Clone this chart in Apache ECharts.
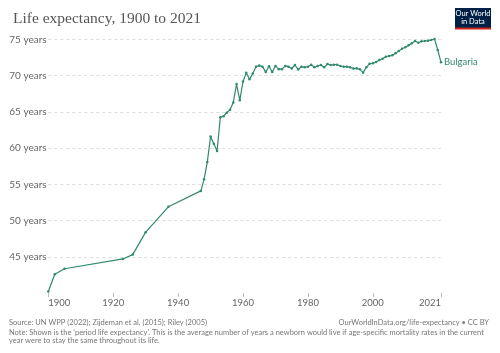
<!DOCTYPE html>
<html lang="en">
<head>
    <meta charset="UTF-8">
    <title>Life expectancy, 1900 to 2021</title>
    <script src="https://cdn.jsdelivr.net/npm/echarts@6/dist/echarts.min.js"></script>
    <style>
        html, body { margin: 0; padding: 0; background: #fff; }
    </style>
</head>
<body>
    <div id="main" style="width: 500px;height:353px;"></div>
    <script>
// data (Bulgaria)
var years = [1900, 1902, 1905, 1923, 1926, 1930, 1937, 1947, 1948, 1949,
    1950, 1951, 1952, 1953, 1954, 1955, 1956, 1957, 1958, 1959,
    1960, 1961, 1962, 1963, 1964, 1965, 1966, 1967, 1968, 1969,
    1970, 1971, 1972, 1973, 1974, 1975, 1976, 1977, 1978, 1979,
    1980, 1981, 1982, 1983, 1984, 1985, 1986, 1987, 1988, 1989,
    1990, 1991, 1992, 1993, 1994, 1995, 1996, 1997, 1998, 1999,
    2000, 2001, 2002, 2003, 2004, 2005, 2006, 2007, 2008, 2009,
    2010, 2011, 2012, 2013, 2014, 2015, 2016, 2017, 2018, 2019,
    2020, 2021];
var lifeExp = [40.2, 42.6, 43.35, 44.7, 45.3, 48.4, 51.9, 54.1, 55.7, 58.1,
    61.6, 60.6, 59.6, 64.25, 64.4, 64.9, 65.3, 66.3, 68.85, 66.6,
    69.2, 70.4, 69.5, 70.3, 71.25, 71.4, 71.25, 70.5, 71.3, 70.5,
    71.35, 70.9, 70.9, 71.35, 71.25, 71.0, 71.48, 70.85, 71.25, 71.16,
    71.25, 71.52, 71.16, 71.34, 71.48, 71.16, 71.62, 71.48, 71.52, 71.52,
    71.34, 71.25, 71.25, 71.16, 70.98, 71.02, 70.88, 70.42, 71.16, 71.66,
    71.71, 71.89, 72.17, 72.35, 72.63, 72.72, 72.81, 73.09, 73.41, 73.73,
    73.92, 74.19, 74.47, 74.79, 74.56, 74.75, 74.79, 74.84, 74.93, 75.07,
    73.55, 71.85];
var xTicks = [1900, 1920, 1940, 1960, 1980, 2000, 2021];
var entity = 'Bulgaria';

var lineColor = '#318a69';
var font = 'Lato';

var myChart = echarts.init(document.getElementById('main'));

var seriesData = years.map(function (y, i) { return [y, lifeExp[i]]; });

var option = {
    animation: false,
    title: {
        text: 'Life expectancy, 1900 to 2021',
        left: 8,
        top: 6,
        textStyle: {
            fontFamily: 'Liberation Serif',
            fontSize: 15.5,
            fontWeight: 'normal',
            color: '#555'
        }
    },
    grid: {
        left: 48.3,
        right: 59,
        top: 39.5,
        bottom: 60
    },
    xAxis: {
        type: 'value',
        min: 1900,
        max: 2021,
        axisLine: { show: false },
        splitLine: { show: false },
        axisTick: {
            show: true,
            length: 4,
            customValues: xTicks,
            lineStyle: { color: '#bbb' }
        },
        axisLabel: {
            customValues: xTicks,
            formatter: function (v) { return String(v); },
            alignMinLabel: 'left',
            alignMaxLabel: 'right',
            margin: 5,
            fontFamily: font,
            fontSize: 9.5,
            color: '#666'
        }
    },
    yAxis: {
        type: 'value',
        min: 40,
        max: 75,
        interval: 5,
        axisLine: { show: false },
        axisTick: { show: false },
        axisLabel: {
            showMinLabel: false,
            formatter: '{value} years',
            align: 'left',
            margin: 39,
            fontFamily: font,
            fontSize: 10,
            color: '#666'
        },
        splitLine: {
            showMinLine: false,
            lineStyle: { color: '#ddd', type: [3, 3], width: 1 }
        }
    },
    series: [
        {
            name: entity,
            type: 'line',
            clip: false,
            data: seriesData,
            symbol: 'circle',
            symbolSize: 2.5,
            showSymbol: true,
            itemStyle: { color: lineColor },
            lineStyle: { color: lineColor, width: 1.2 },
            endLabel: {
                show: true,
                formatter: entity,
                distance: 3,
                fontFamily: font,
                fontSize: 9.5,
                color: lineColor
            }
        }
    ],
    graphic: [
        // logo
        { type: 'rect', x: 455, y: 8, shape: { width: 36, height: 20 }, style: { fill: '#002147' } },
        { type: 'rect', x: 455, y: 27.5, shape: { width: 36, height: 2 }, style: { fill: '#ce261e' } },
        {
            type: 'text', x: 473, y: 10,
            style: {
                text: 'Our World\nin Data', fill: '#fff', fontFamily: font, fontSize: 7.5,
                align: 'center', verticalAlign: 'top', lineHeight: 8
            }
        },
        // footer
        {
            type: 'text', left: 9, top: 319,
            style: { text: 'Source: UN WPP (2022); Zijdeman et al. (2015); Riley (2005)', fill: '#777', fontFamily: font, fontSize: 7.5 }
        },
        {
            type: 'text', right: 11, top: 319,
            style: { text: 'OurWorldInData.org/life-expectancy \u2022 CC BY', fill: '#777', fontFamily: font, fontSize: 7.5 }
        },
        {
            type: 'text', left: 9, top: 328.5,
            style: {
                text: 'Note: Shown is the \u2018period life expectancy\u2019. This is the average number of years a newborn would live if age-specific mortality rates in the current\nyear were to stay the same throughout its life.',
                fill: '#777', fontFamily: font, fontSize: 7.5, lineHeight: 8
            }
        }
    ]
};

myChart.setOption(option);
    </script>
</body>
</html>
